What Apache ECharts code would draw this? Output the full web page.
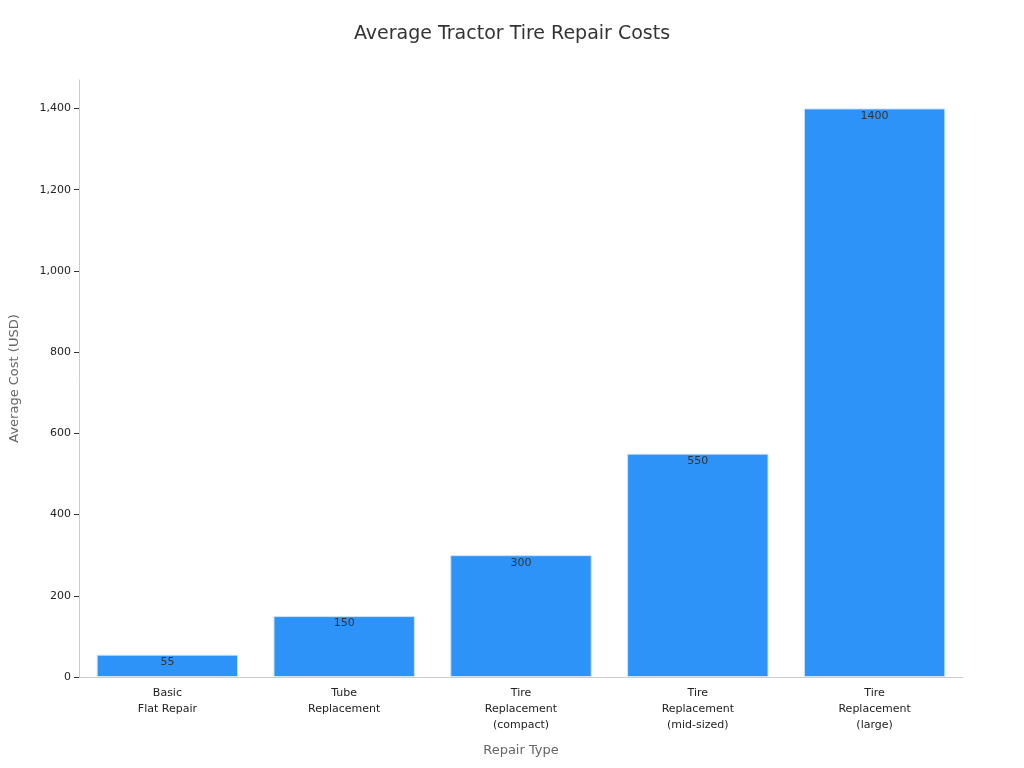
<!DOCTYPE html>
<html><head><meta charset="utf-8">
<script src="https://cdn.jsdelivr.net/npm/echarts@6/dist/echarts.min.js"></script>
<style>html,body{margin:0;padding:0;background:#fff}#c{width:1024px;height:768px}</style>
</head><body><div id="c"></div>
<script>
const categories = ["Basic\nFlat Repair","Tube\nReplacement","Tire\nReplacement\n(compact)","Tire\nReplacement\n(mid-sized)","Tire\nReplacement\n(large)"];
const costs = [55,150,300,550,1400];
const chart = echarts.init(document.getElementById('c'));
chart.setOption({
  animation:false,
  textStyle:{fontFamily:'DejaVu Sans'},
  title:{text:'Average Tractor Tire Repair Costs',left:'center',top:20,textStyle:{fontSize:19,fontWeight:'normal',color:'#333'}},
  grid:{left:76,right:61,top:80,bottom:91},
  xAxis:{type:'category',data:categories,name:'Repair Type',nameLocation:'middle',nameGap:67,
    nameTextStyle:{fontSize:13,color:'#666'},
    axisLine:{lineStyle:{color:'#ccc'}},axisTick:{show:false},
    axisLabel:{fontSize:11,color:'#222',interval:0,lineHeight:16}},
  yAxis:{type:'value',min:0,max:1470,interval:200,name:'Average Cost (USD)',nameLocation:'middle',nameGap:58,
    nameTextStyle:{fontSize:13,color:'#666'},
    axisLine:{show:true,lineStyle:{color:'#ccc'}},axisTick:{show:true,lineStyle:{color:'#333'}},
    axisLabel:{fontSize:11,color:'#222',showMaxLabel:false},splitLine:{show:false}},
  series:[{type:'bar',data:costs,barCategoryGap:'20%',
    itemStyle:{color:'#2E93F8',borderColor:'#cfe3f7',borderWidth:1},
    label:{show:true,position:'insideTop',color:'#333',fontSize:11,offset:[0,-3]}}]
});
</script></body></html>
